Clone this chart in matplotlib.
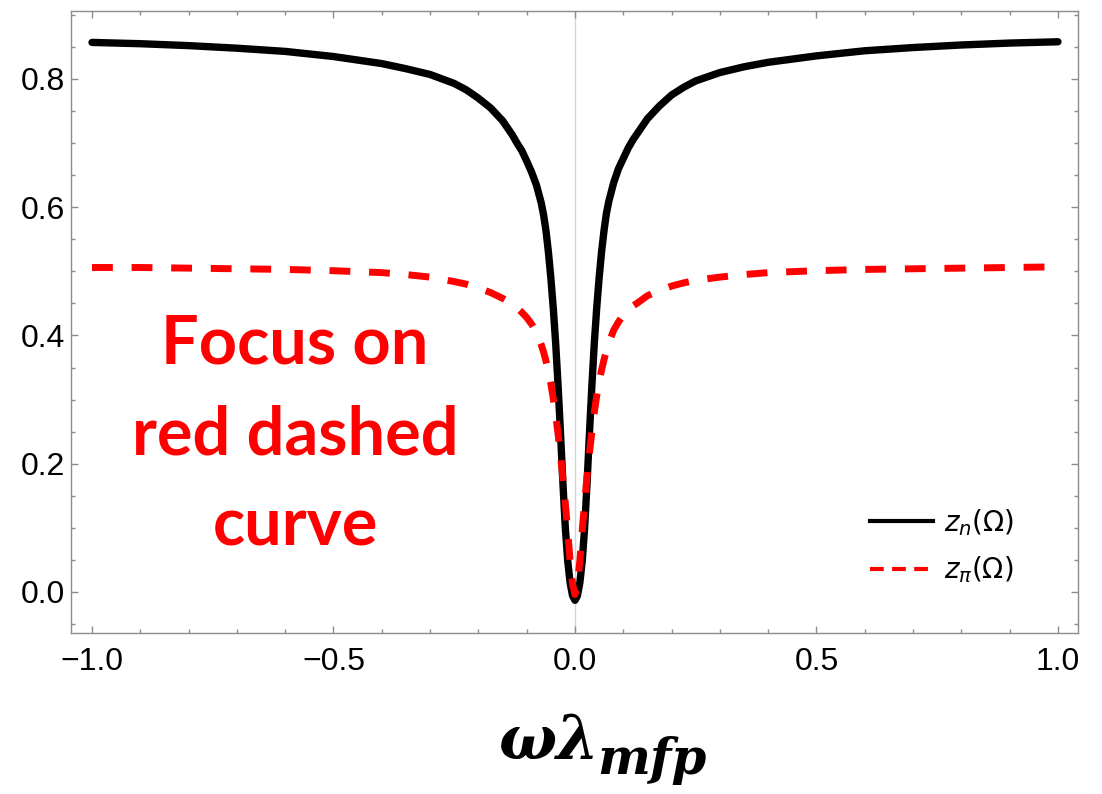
import numpy as np
import matplotlib.pyplot as plt
from matplotlib.lines import Line2D
from matplotlib.ticker import MultipleLocator

# values
omega = [-1.0, -0.9, -0.8, -0.7, -0.6, -0.5, -0.4, -0.35, -0.3, -0.25, -0.225, -0.2,
         -0.175, -0.15, -0.13, -0.12, -0.11, -0.1, -0.09, -0.08, -0.07, -0.065, -0.06,
         -0.055, -0.05, -0.045, -0.04, -0.035, -0.03, -0.025, -0.02, -0.015,
         -0.01, -0.005, 0.0,
         0.005, 0.01, 0.015, 0.02, 0.025, 0.03, 0.035, 0.04, 0.045, 0.05, 0.055,
         0.06, 0.065, 0.07, 0.08, 0.09, 0.1, 0.11, 0.12, 0.13, 0.15, 0.175, 0.2, 0.225,
         0.25, 0.3, 0.35, 0.4, 0.5, 0.6, 0.7, 0.8, 0.9, 1.0]
z_n = [0.857, 0.855, 0.852, 0.848, 0.843, 0.835, 0.824, 0.816, 0.807, 0.793, 0.783, 0.770,
       0.755, 0.735, 0.713, 0.700, 0.688, 0.672, 0.655, 0.635, 0.607, 0.588, 0.563,
       0.530, 0.490, 0.443, 0.388, 0.322, 0.248, 0.170, 0.100, 0.048,
       0.014, -0.006, -0.013,
       -0.006, 0.014, 0.048, 0.100, 0.170, 0.248, 0.322, 0.388, 0.443, 0.490, 0.530,
       0.563, 0.590, 0.609, 0.638, 0.660, 0.676, 0.692, 0.705, 0.716, 0.738, 0.758, 0.775, 0.787,
       0.797, 0.810, 0.819, 0.826, 0.836, 0.844, 0.849, 0.853, 0.856, 0.858]
z_pi = [0.506, 0.506, 0.505, 0.504, 0.503, 0.501, 0.498, 0.495, 0.491, 0.484, 0.480, 0.474,
        0.467, 0.458, 0.449, 0.443, 0.436, 0.428, 0.418, 0.405, 0.386, 0.374, 0.360,
        0.344, 0.325, 0.302, 0.276, 0.246, 0.213, 0.177, 0.138, 0.094,
        0.048, 0.012, -0.004,
        0.012, 0.048, 0.096, 0.141, 0.180, 0.217, 0.250, 0.280, 0.306, 0.328, 0.346,
        0.362, 0.376, 0.388, 0.408, 0.421, 0.432, 0.440, 0.446, 0.451, 0.462, 0.470, 0.477, 0.482,
        0.486, 0.491, 0.495, 0.498, 0.501, 0.503, 0.504, 0.505, 0.506, 0.507]

xticks = [-1.0, -0.5, 0.0, 0.5, 1.0]
xtick_labels = ["\u22121.0", "\u22120.5", "0.0", "0.5", "1.0"]
yticks = [0.0, 0.2, 0.4, 0.6, 0.8]
ytick_labels = ["0.0", "0.2", "0.4", "0.6", "0.8"]
legend_labels = [r"$z_n(\Omega)$", r"$z_\pi(\Omega)$"]
note_lines = ["Focus on", "red dashed", "curve"]

W, H = 1102, 794
fig = plt.figure(figsize=(W / 100, H / 100), dpi=100)
ax = fig.add_axes([71 / W, 1 - 633 / H, (1078 - 71) / W, (633 - 11) / H])

frame_col = "#8c8c8c"
ax.axvline(0, color="#d4d4d4", lw=1, zorder=0)
ax.plot(omega, z_n, color="black", lw=5.3, solid_capstyle="round",
        solid_joinstyle="round", zorder=2)
ax.plot(omega, z_pi, color="#ff0000", lw=5, dashes=(3, 2.7), dash_capstyle="butt",
        dash_joinstyle="round", zorder=3)

ax.set_xlim(-1.0435, 1.0415)
ax.set_ylim(-0.064, 0.906)
ax.set_xticks(xticks)
ax.set_xticklabels(xtick_labels)
ax.set_yticks(yticks)
ax.set_yticklabels(ytick_labels)
ax.xaxis.set_minor_locator(MultipleLocator(0.1))
ax.yaxis.set_minor_locator(MultipleLocator(0.05))
ax.tick_params(which="both", direction="in", top=True, right=True, color=frame_col, width=1)
ax.tick_params(which="major", length=5)
ax.tick_params(which="minor", length=3)
ax.tick_params(axis="x", pad=10)
ax.tick_params(axis="y", pad=4)
for lab in ax.get_xticklabels() + ax.get_yticklabels():
    lab.set_fontfamily("Liberation Sans")
    lab.set_fontsize(23)
for s in ax.spines.values():
    s.set_color(frame_col)
    s.set_linewidth(1)

handles = [Line2D([], [], color="black", lw=3),
           Line2D([], [], color="#ff0000", lw=3, dashes=(3.3, 2.0))]
ax.legend(handles, legend_labels, loc="center left",
          bbox_to_anchor=(870 / W, 1 - 546 / H), bbox_transform=fig.transFigure,
          frameon=False, fontsize=20, borderpad=0, borderaxespad=0,
          handlelength=2.25, handletextpad=0.4, labelspacing=0.6)

# red note
for txt, base in zip(note_lines, [364, 455, 545]):
    fig.text(295 / W, 1 - base / H, txt, color="#ff0000", fontfamily="Lato",
             fontweight="bold", fontsize=48, ha="center", va="baseline")

# x label: omega lambda_mfp
fig.text(498 / W, 1 - 759 / H, "\u03c9\u03bb", fontfamily="DejaVu Serif",
         fontweight="bold", fontstyle="italic", fontsize=44, va="baseline")
fig.text(597 / W, 1 - 774 / H, "mfp", fontfamily="DejaVu Serif",
         fontweight="bold", fontstyle="italic", fontsize=36, va="baseline")

fig.savefig("out.png", dpi=100)
